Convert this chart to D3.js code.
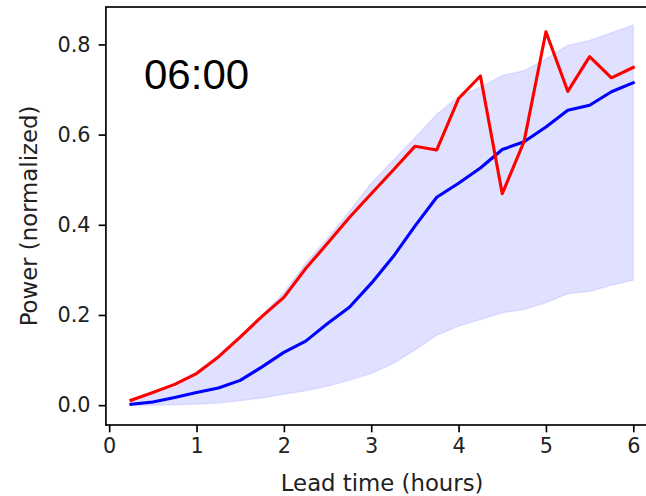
<!DOCTYPE html>
<html>
<head>
<meta charset="utf-8">
<script src="https://cdn.jsdelivr.net/npm/d3@7"></script>
<style>
  html, body { margin: 0; padding: 0; background: #fff; }
  svg { display: block; }
</style>
</head>
<body>
<svg id="chart" width="646" height="496"></svg>
<script>
// Data
const leadTimes = [0.25, 0.5, 0.75, 1.0, 1.25, 1.5, 1.75, 2.0, 2.25, 2.5, 2.75, 3.0,
                   3.25, 3.5, 3.75, 4.0, 4.25, 4.5, 4.75, 5.0, 5.25, 5.5, 5.75, 6.0];
const observed = [0.011, 0.028, 0.046, 0.070, 0.107, 0.151, 0.197, 0.239, 0.303, 0.359, 0.416, 0.469,
                  0.521, 0.574, 0.566, 0.680, 0.730, 0.469, 0.585, 0.828, 0.696, 0.773, 0.726, 0.749];
const forecastMean = [0.002, 0.007, 0.017, 0.028, 0.038, 0.055, 0.085, 0.117, 0.142, 0.181, 0.217, 0.270,
                      0.329, 0.397, 0.461, 0.492, 0.526, 0.567, 0.584, 0.617, 0.654, 0.665, 0.695, 0.715];
const bandUpper = [0.012, 0.028, 0.048, 0.074, 0.110, 0.155, 0.200, 0.250, 0.315, 0.370, 0.430, 0.492,
                   0.543, 0.593, 0.645, 0.684, 0.705, 0.731, 0.742, 0.768, 0.798, 0.809, 0.826, 0.843];
const bandLower = [0.000, 0.000, 0.001, 0.002, 0.005, 0.010, 0.016, 0.024, 0.032, 0.042, 0.055, 0.070,
                   0.092, 0.122, 0.155, 0.175, 0.190, 0.205, 0.212, 0.227, 0.247, 0.252, 0.266, 0.277];
const xTicks = [0, 1, 2, 3, 4, 5, 6];
const yTicks = [0.0, 0.2, 0.4, 0.6, 0.8];
const panelLabel = "06:00";
const xLabel = "Lead time (hours)";
const yLabel = "Power (normalized)";

(function () {
const svg = d3.select("#chart");
const pLeft = 105.9, pRight = 658.4, pTop = 7, pBottom = 425;
const x = d3.scaleLinear().domain([-0.0375, 6.2875]).range([pLeft, pRight]);
const y = d3.scaleLinear().domain([-0.044, 0.883]).range([pBottom, pTop]);

const font = "'DejaVu Sans', sans-serif";
const tickFont = 20.8;
const labelFont = 22.8;

// Band
const area = d3.area()
  .x((d, i) => x(leadTimes[i]))
  .y0((d, i) => y(bandLower[i]))
  .y1((d, i) => y(bandUpper[i]));
svg.append("path")
  .datum(leadTimes)
  .attr("d", area)
  .attr("fill", "#0000ff")
  .attr("fill-opacity", 0.12)
  .attr("stroke", "#0000ff")
  .attr("stroke-opacity", 0.08)
  .attr("stroke-width", 1.5);

const line = arr => d3.line().x((d, i) => x(leadTimes[i])).y((d, i) => y(arr[i]));

svg.append("path").datum(forecastMean).attr("d", line(forecastMean))
  .attr("fill", "none").attr("stroke", "#0000ff").attr("stroke-width", 3.1)
  .attr("stroke-linejoin", "round").attr("stroke-linecap", "square");
svg.append("path").datum(observed).attr("d", line(observed))
  .attr("fill", "none").attr("stroke", "#ff0000").attr("stroke-width", 3.1)
  .attr("stroke-linejoin", "round").attr("stroke-linecap", "square");

// Frame
svg.append("rect")
  .attr("x", pLeft).attr("y", pTop)
  .attr("width", pRight - pLeft).attr("height", pBottom - pTop)
  .attr("fill", "none").attr("stroke", "#000").attr("stroke-width", 1.67);

// X axis
const xAxis = d3.axisBottom(x).tickValues(xTicks).tickFormat(d3.format("d"))
  .tickSize(7.3).tickPadding(5.5);
const gx = svg.append("g").attr("transform", `translate(0,${pBottom})`).call(xAxis);
gx.select(".domain").remove();
gx.selectAll(".tick line").attr("stroke", "#000").attr("stroke-width", 1.67);
gx.selectAll(".tick text").attr("font-family", font).attr("font-size", tickFont).attr("fill", "#222");

// Y axis
const yAxis = d3.axisLeft(y).tickValues(yTicks).tickFormat(d3.format(".1f"))
  .tickSize(7.3).tickPadding(8);
const gy = svg.append("g").attr("transform", `translate(${pLeft},0)`).call(yAxis);
gy.select(".domain").remove();
gy.selectAll(".tick line").attr("stroke", "#000").attr("stroke-width", 1.67);
gy.selectAll(".tick text").attr("font-family", font).attr("font-size", tickFont).attr("fill", "#222");

// Axis labels
svg.append("text")
  .attr("x", (pLeft + pRight) / 2).attr("y", 491)
  .attr("text-anchor", "middle")
  .attr("font-family", font).attr("font-size", labelFont).attr("fill", "#222")
  .text(xLabel);
svg.append("text")
  .attr("transform", `translate(37,${(pTop + pBottom) / 2}) rotate(-90)`)
  .attr("text-anchor", "middle")
  .attr("font-family", font).attr("font-size", labelFont).attr("fill", "#222")
  .text(yLabel);

// Panel label
svg.append("text")
  .attr("x", 144).attr("y", 89)
  .attr("font-family", "'Liberation Sans', Arial, sans-serif").attr("font-size", 42)
  .attr("fill", "#000")
  .text(panelLabel);
})();
</script>
</body>
</html>
